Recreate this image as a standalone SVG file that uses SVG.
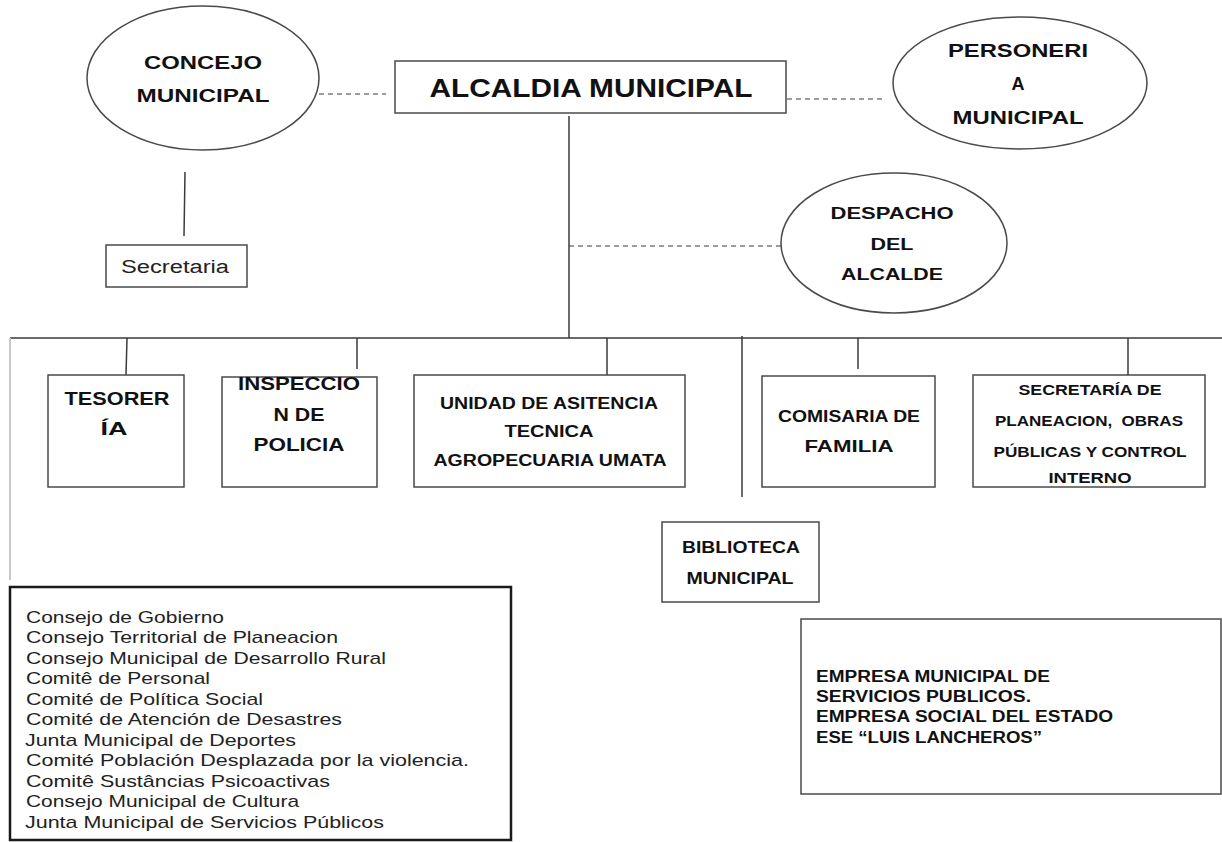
<svg xmlns="http://www.w3.org/2000/svg" width="1222" height="842" viewBox="0 0 1222 842">
<style>
.shape{fill:#fff;stroke:#4a4a4a;stroke-width:1.5}
.ln{stroke:#3a3a3a;stroke-width:1.5;fill:none}
.dash{stroke:#3a3a3a;stroke-width:1.2;stroke-dasharray:5 4;fill:none}
.t{font-family:"Liberation Sans",Arial,sans-serif;font-weight:bold;fill:#111;text-anchor:middle;white-space:pre}
.r{font-family:"Liberation Sans",Arial,sans-serif;fill:#222;white-space:pre}
</style>
<rect width="1222" height="842" fill="#fff"/>
<g id="connectors">
<line class="dash" x1="310" y1="94" x2="386" y2="94"/>
<line class="dash" x1="787" y1="99" x2="886" y2="99"/>
<line class="dash" x1="569" y1="246" x2="781" y2="246"/>
<line class="ln" x1="185" y1="172" x2="184" y2="236"/>
<line class="ln" x1="569" y1="116" x2="569" y2="338"/>
<line class="ln" x1="10" y1="338" x2="1222" y2="338"/>
<line x1="10" y1="338" x2="10" y2="580" stroke="#c8c8c8" stroke-width="2"/>
<line class="ln" x1="127" y1="338" x2="126" y2="375"/>
<line class="ln" x1="357" y1="338" x2="357" y2="369"/>
<line class="ln" x1="607" y1="338" x2="607" y2="375"/>
<line class="ln" x1="742" y1="336" x2="742" y2="497"/>
<line class="ln" x1="858" y1="338" x2="858" y2="369"/>
<line class="ln" x1="1128" y1="338" x2="1128" y2="375"/>
</g>
<g id="concejo">
<ellipse class="shape" cx="203" cy="78" rx="116" ry="72"/>
<text class="t" x="203" y="69" font-size="18" textLength="118" lengthAdjust="spacingAndGlyphs">CONCEJO</text>
<text class="t" x="203" y="102" font-size="18" textLength="133" lengthAdjust="spacingAndGlyphs">MUNICIPAL</text>
</g>
<g id="secretaria">
<rect class="shape" x="106" y="245" width="141" height="42"/>
<text class="r" x="175" y="273" font-size="18" text-anchor="middle" textLength="108" lengthAdjust="spacingAndGlyphs">Secretaria</text>
</g>
<g id="alcaldia">
<rect class="shape" x="395" y="61" width="391" height="52"/>
<text class="t" x="591" y="97" font-size="25" textLength="323" lengthAdjust="spacingAndGlyphs">ALCALDIA MUNICIPAL</text>
</g>
<g id="personeria">
<ellipse class="shape" cx="1020" cy="83" rx="127" ry="66"/>
<text class="t" x="1018" y="57" font-size="18" textLength="140" lengthAdjust="spacingAndGlyphs">PERSONERI</text>
<text class="t" x="1018" y="90" font-size="18">A</text>
<text class="t" x="1018" y="124" font-size="18" textLength="131" lengthAdjust="spacingAndGlyphs">MUNICIPAL</text>
</g>
<g id="despacho">
<ellipse class="shape" cx="894" cy="243" rx="113" ry="70"/>
<text class="t" x="892" y="219" font-size="17" textLength="123" lengthAdjust="spacingAndGlyphs">DESPACHO</text>
<text class="t" x="892" y="250" font-size="17" textLength="43" lengthAdjust="spacingAndGlyphs">DEL</text>
<text class="t" x="892" y="280" font-size="17" textLength="102" lengthAdjust="spacingAndGlyphs">ALCALDE</text>
</g>
<g id="tesoreria">
<rect class="shape" x="48" y="375" width="136" height="112"/>
<text class="t" x="117" y="405" font-size="18" textLength="105" lengthAdjust="spacingAndGlyphs">TESORER</text>
<text class="t" x="114" y="435" font-size="18" textLength="27" lengthAdjust="spacingAndGlyphs">ÍA</text>
</g>
<g id="inspeccion">
<rect class="shape" x="222" y="377" width="155" height="110"/>
<text class="t" x="299" y="390" font-size="18" textLength="122" lengthAdjust="spacingAndGlyphs">INSPECCIO</text>
<text class="t" x="299" y="421" font-size="18" textLength="51" lengthAdjust="spacingAndGlyphs">N DE</text>
<text class="t" x="299" y="451" font-size="18" textLength="91" lengthAdjust="spacingAndGlyphs">POLICIA</text>
</g>
<g id="umata">
<rect class="shape" x="414" y="375" width="271" height="112"/>
<text class="t" x="549" y="409" font-size="16" textLength="218" lengthAdjust="spacingAndGlyphs">UNIDAD DE ASITENCIA</text>
<text class="t" x="549" y="437" font-size="16" textLength="89" lengthAdjust="spacingAndGlyphs">TECNICA</text>
<text class="t" x="550" y="466" font-size="16" textLength="233" lengthAdjust="spacingAndGlyphs">AGROPECUARIA UMATA</text>
</g>
<g id="comisaria">
<rect class="shape" x="762" y="376" width="173" height="111"/>
<text class="t" x="849" y="422" font-size="17" textLength="142" lengthAdjust="spacingAndGlyphs">COMISARIA DE</text>
<text class="t" x="849" y="452" font-size="17" textLength="89" lengthAdjust="spacingAndGlyphs">FAMILIA</text>
</g>
<g id="planeacion">
<rect class="shape" x="973" y="375" width="232" height="112"/>
<text class="t" x="1090" y="395" font-size="14" textLength="143" lengthAdjust="spacingAndGlyphs">SECRETARÍA DE</text>
<text class="t" x="1089" y="426" font-size="14" textLength="188" lengthAdjust="spacingAndGlyphs">PLANEACION,  OBRAS</text>
<text class="t" x="1090" y="457" font-size="14" textLength="193" lengthAdjust="spacingAndGlyphs">PÚBLICAS Y CONTROL</text>
<text class="t" x="1090" y="483" font-size="14" textLength="83" lengthAdjust="spacingAndGlyphs">INTERNO</text>
</g>
<g id="biblioteca">
<rect class="shape" x="662" y="522" width="157" height="80"/>
<text class="t" x="741" y="553" font-size="17" textLength="118" lengthAdjust="spacingAndGlyphs">BIBLIOTECA</text>
<text class="t" x="740" y="584" font-size="17" textLength="107" lengthAdjust="spacingAndGlyphs">MUNICIPAL</text>
</g>
<g id="empresas">
<rect class="shape" x="801" y="619" width="420" height="175"/>
<g class="t" style="text-anchor:start" font-size="16">
<text x="816" y="682" textLength="234" lengthAdjust="spacingAndGlyphs">EMPRESA MUNICIPAL DE</text>
<text x="816" y="702" textLength="215" lengthAdjust="spacingAndGlyphs">SERVICIOS  PUBLICOS.</text>
<text x="816" y="722" textLength="297" lengthAdjust="spacingAndGlyphs">EMPRESA SOCIAL DEL ESTADO</text>
<text x="816" y="743" textLength="226" lengthAdjust="spacingAndGlyphs">ESE “LUIS LANCHEROS”</text>
</g>
</g>
<g id="consejos">
<rect x="10" y="587" width="501" height="253" fill="#fff" stroke="#1a1a1a" stroke-width="2.5"/>
<g class="r" font-size="17">
<text x="26" y="623" textLength="198" lengthAdjust="spacingAndGlyphs">Consejo de Gobierno</text>
<text x="26" y="643" textLength="312" lengthAdjust="spacingAndGlyphs">Consejo Territorial  de Planeacion</text>
<text x="26" y="664" textLength="360" lengthAdjust="spacingAndGlyphs">Consejo Municipal de Desarrollo Rural</text>
<text x="26" y="684" textLength="184" lengthAdjust="spacingAndGlyphs">Comitê de Personal</text>
<text x="26" y="705" textLength="237" lengthAdjust="spacingAndGlyphs">Comité de Política Social</text>
<text x="26" y="725" textLength="316" lengthAdjust="spacingAndGlyphs">Comité de Atención de Desastres</text>
<text x="25" y="746" textLength="271" lengthAdjust="spacingAndGlyphs">Junta Municipal de Deportes</text>
<text x="26" y="766" textLength="443" lengthAdjust="spacingAndGlyphs">Comité Población Desplazada por la  violencia.</text>
<text x="26" y="787" textLength="304" lengthAdjust="spacingAndGlyphs">Comitê Sustâncias Psicoactivas</text>
<text x="26" y="807" textLength="273" lengthAdjust="spacingAndGlyphs">Consejo Municipal de Cultura</text>
<text x="25" y="828" textLength="359" lengthAdjust="spacingAndGlyphs">Junta Municipal de Servicios Públicos</text>
</g>
</g>
</svg>
